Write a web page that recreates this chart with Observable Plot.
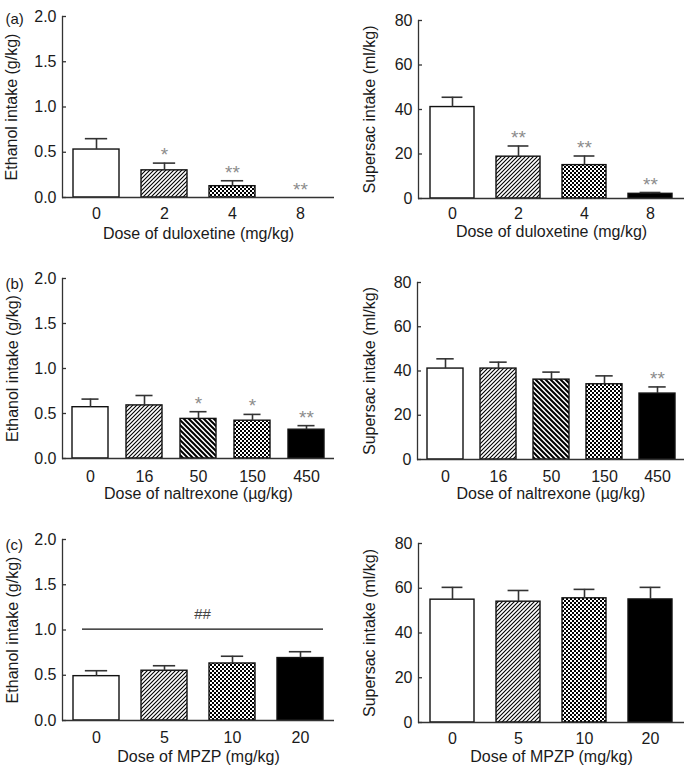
<!DOCTYPE html>
<html>
<head>
<meta charset="utf-8">
<script src="https://cdn.jsdelivr.net/npm/d3@7"></script>
<script src="https://cdn.jsdelivr.net/npm/@observablehq/plot@0.6"></script>
<style>
  html, body { margin: 0; padding: 0; background: #fff; }
  #fig { position: relative; width: 693px; height: 768px; background: #fff; }
</style>
</head>
<body>
<svg width="0" height="0" style="position:absolute">
  <defs>
    <pattern id="pat-fwd" patternUnits="userSpaceOnUse" width="4" height="4">
      <rect width="4" height="4" fill="#fff"/>
      <path d="M-1,1 l2,-2 M0,4 l4,-4 M3,5 l2,-2" stroke="#000" stroke-width="1.1"/>
    </pattern>
    <pattern id="pat-back" patternUnits="userSpaceOnUse" width="5" height="5">
      <rect width="5" height="5" fill="#fff"/>
      <path d="M-1,4 l2,2 M0,0 l5,5 M4,-1 l2,2" stroke="#000" stroke-width="2"/>
    </pattern>
    <pattern id="pat-check" patternUnits="userSpaceOnUse" width="4" height="4">
      <rect width="4" height="4" fill="#fff"/>
      <rect width="2" height="2" fill="#000"/>
      <rect x="2" y="2" width="2" height="2" fill="#000"/>
    </pattern>
  </defs>
</svg>
<div id="fig"></div>
<script>
// ---------- data ----------
const duloxetineDoses = ["0", "2", "4", "8"];
const duloxetineEthanol = [0.53, 0.30, 0.125, 0];
const duloxetineEthanolErr = [0.12, 0.08, 0.06, 0];
const duloxetineEthanolSig = ["", "*", "**", "**"];
const duloxetineSupersac = [41.1, 18.8, 15.0, 2.1];
const duloxetineSupersacErr = [4.4, 4.8, 4.1, 0.6];
const duloxetineSupersacSig = ["", "**", "**", "**"];

const naltrexoneDoses = ["0", "16", "50", "150", "450"];
const naltrexoneEthanol = [0.57, 0.59, 0.44, 0.42, 0.32];
const naltrexoneEthanolErr = [0.09, 0.11, 0.08, 0.07, 0.045];
const naltrexoneEthanolSig = ["", "", "*", "*", "**"];
const naltrexoneSupersac = [41.1, 41.1, 36.1, 34.0, 29.8];
const naltrexoneSupersacErr = [4.4, 2.9, 3.4, 3.8, 3.0];
const naltrexoneSupersacSig = ["", "", "", "", "**"];

const mpzpDoses = ["0", "5", "10", "20"];
const mpzpEthanol = [0.49, 0.55, 0.63, 0.69];
const mpzpEthanolErr = [0.06, 0.055, 0.08, 0.07];
const mpzpEthanolSig = ["", "", "", ""];
const mpzpSupersac = [54.9, 54.0, 55.5, 55.0];
const mpzpSupersacErr = [5.5, 5.0, 4.0, 5.4];
const mpzpSupersacSig = ["", "", "", ""];
const mpzpGroupLineY = 1.01;
const mpzpGroupMark = "##";

const ethanolTicks = [0, 0.5, 1.0, 1.5, 2.0];
const supersacTicks = [0, 20, 40, 60, 80];

const panelLetters = ["(a)", "(b)", "(c)"];
const ethanolLabel = "Ethanol intake (g/kg)";
const supersacLabel = "Supersac intake (ml/kg)";
const doseLabels = ["Dose of duloxetine (mg/kg)", "Dose of naltrexone (\u00b5g/kg)", "Dose of MPZP (mg/kg)"];

// ---------- styles ----------
const patternFor = {
  duloxetine: ["#fff", "url(#pat-fwd)", "url(#pat-check)", "#000"],
  naltrexone: ["#fff", "url(#pat-fwd)", "url(#pat-back)", "url(#pat-check)", "#000"],
  mpzp: ["#fff", "url(#pat-fwd)", "url(#pat-check)", "#000"]
};

const FONT = "'Liberation Sans', Arial, Helvetica, sans-serif";

function makeRows(doses, values, errs, sigs, fills) {
  return doses.map((d, i) => ({dose: d, value: values[i], err: errs[i], sig: sigs[i], fill: fills[i]}));
}

function panel(cfg) {
  const {left, top, width, height, ml, mr, mt, mb, doses, rows, ticks, fmt, ylabel, xlabel,
         labelOffY, tickPadX, labelOffX, letter, letterDy, extra} = cfg;
  const frameW = width - ml - mr;
  const step = frameW / doses.length;
  const pInner = 0.33;
  const bw = step * (1 - pInner);
  const capInset = (bw - bw * 0.48) / 2;
  const marks = [
    Plot.axisY({ticks, tickFormat: fmt, tickSize: 0, tickPadding: 6, label: ylabel,
      labelAnchor: "center", labelOffset: labelOffY, labelArrow: "none", fill: "#1a1a1a"}),
    Plot.tickY(ticks, {y: d => d, insetRight: frameW - 4, stroke: "#333", strokeWidth: 1.3}),
    Plot.axisX({tickSize: 0, tickPadding: tickPadX, label: xlabel, labelAnchor: "center",
      labelOffset: labelOffX, labelArrow: "none", fill: "#1a1a1a"}),
    Plot.barY(rows.filter(r => r.value > 0), {x: "dose", y: "value", fill: "fill", stroke: "#111", strokeWidth: 1.4}),
    Plot.ruleX(rows.filter(r => r.err > 0), {x: "dose", y1: "value", y2: r => r.value + r.err, stroke: "#333", strokeWidth: 1.6}),
    Plot.tickY(rows.filter(r => r.err > 0), {x: "dose", y: r => r.value + r.err, insetLeft: capInset, insetRight: capInset, stroke: "#333", strokeWidth: 1.6}),
    Plot.text(rows.filter(r => r.sig), {x: "dose", y: r => r.value + r.err, text: "sig", dy: -8, fill: "#8c8c8c", fontSize: 19}),
    Plot.frame({anchor: "left", stroke: "#333", strokeWidth: 1.3}),
    Plot.ruleY([0], {stroke: "#333", strokeWidth: 1.3})
  ];
  if (letter) {
    marks.push(Plot.text([letter], {frameAnchor: "top-left", text: d => d, dx: -57, dy: letterDy, textAnchor: "start", fontSize: 15, fill: "#1a1a1a"}));
  }
  if (extra) marks.push(...extra);
  const svg = Plot.plot({
    width, height,
    marginLeft: ml, marginRight: mr, marginTop: mt, marginBottom: mb,
    style: {fontFamily: FONT, fontSize: "16px", color: "#1a1a1a", background: "transparent", overflow: "visible"},
    x: {domain: doses, paddingInner: pInner, paddingOuter: pInner / 2, label: null},
    y: {domain: [ticks[0], ticks[ticks.length - 1]], label: null},
    color: {type: "identity"},
    marks
  });
  svg.style.position = "absolute";
  svg.style.left = left + "px";
  svg.style.top = top + "px";
  document.getElementById("fig").appendChild(svg);
}

const f1 = d3.format(".1f");
const f0 = d3.format("d");

// (a)
panel({left: 0, top: 0, width: 346, height: 250, ml: 62, mr: 12, mt: 16, mb: 53,
  doses: duloxetineDoses,
  rows: makeRows(duloxetineDoses, duloxetineEthanol, duloxetineEthanolErr, duloxetineEthanolSig, patternFor.duloxetine),
  ticks: ethanolTicks, fmt: f1, ylabel: ethanolLabel, xlabel: doseLabels[0],
  labelOffY: 57, tickPadX: 10, labelOffX: 41, letter: panelLetters[0], letterDy: -3});
panel({left: 346, top: 0, width: 347, height: 250, ml: 72, mr: 9, mt: 20, mb: 52,
  doses: duloxetineDoses,
  rows: makeRows(duloxetineDoses, duloxetineSupersac, duloxetineSupersacErr, duloxetineSupersacSig, patternFor.duloxetine),
  ticks: supersacTicks, fmt: f0, ylabel: supersacLabel, xlabel: doseLabels[0],
  labelOffY: 55, tickPadX: 9, labelOffX: 38});

// (b)
panel({left: 0, top: 250, width: 346, height: 260, ml: 62, mr: 12, mt: 28, mb: 52,
  doses: naltrexoneDoses,
  rows: makeRows(naltrexoneDoses, naltrexoneEthanol, naltrexoneEthanolErr, naltrexoneEthanolSig, patternFor.naltrexone),
  ticks: ethanolTicks, fmt: f1, ylabel: ethanolLabel, xlabel: doseLabels[1],
  labelOffY: 56, tickPadX: 12, labelOffX: 40, letter: panelLetters[1], letterDy: 0});
panel({left: 346, top: 250, width: 347, height: 260, ml: 71, mr: 9, mt: 32, mb: 51,
  doses: naltrexoneDoses,
  rows: makeRows(naltrexoneDoses, naltrexoneSupersac, naltrexoneSupersacErr, naltrexoneSupersacSig, patternFor.naltrexone),
  ticks: supersacTicks, fmt: f0, ylabel: supersacLabel, xlabel: doseLabels[1],
  labelOffY: 54, tickPadX: 11, labelOffX: 39});

// (c)
panel({left: 0, top: 510, width: 346, height: 258, ml: 62, mr: 12, mt: 29, mb: 48,
  doses: mpzpDoses,
  rows: makeRows(mpzpDoses, mpzpEthanol, mpzpEthanolErr, mpzpEthanolSig, patternFor.mpzp),
  ticks: ethanolTicks, fmt: f1, ylabel: ethanolLabel, xlabel: doseLabels[2],
  labelOffY: 56, tickPadX: 11, labelOffX: 41, letter: panelLetters[2], letterDy: 0,
  extra: [
    Plot.ruleY([mpzpGroupLineY], {insetLeft: 20, insetRight: 11, stroke: "#111", strokeWidth: 1.3}),
    Plot.text([mpzpGroupMark], {y: () => mpzpGroupLineY, text: d => d, dy: -15, dx: 4, fill: "#444", fontSize: 15})
  ]});
panel({left: 346, top: 510, width: 347, height: 258, ml: 72, mr: 9, mt: 33, mb: 46,
  doses: mpzpDoses,
  rows: makeRows(mpzpDoses, mpzpSupersac, mpzpSupersacErr, mpzpSupersacSig, patternFor.mpzp),
  ticks: supersacTicks, fmt: f0, ylabel: supersacLabel, xlabel: doseLabels[2],
  labelOffY: 55, tickPadX: 10, labelOffX: 39});
</script>
</body>
</html>
